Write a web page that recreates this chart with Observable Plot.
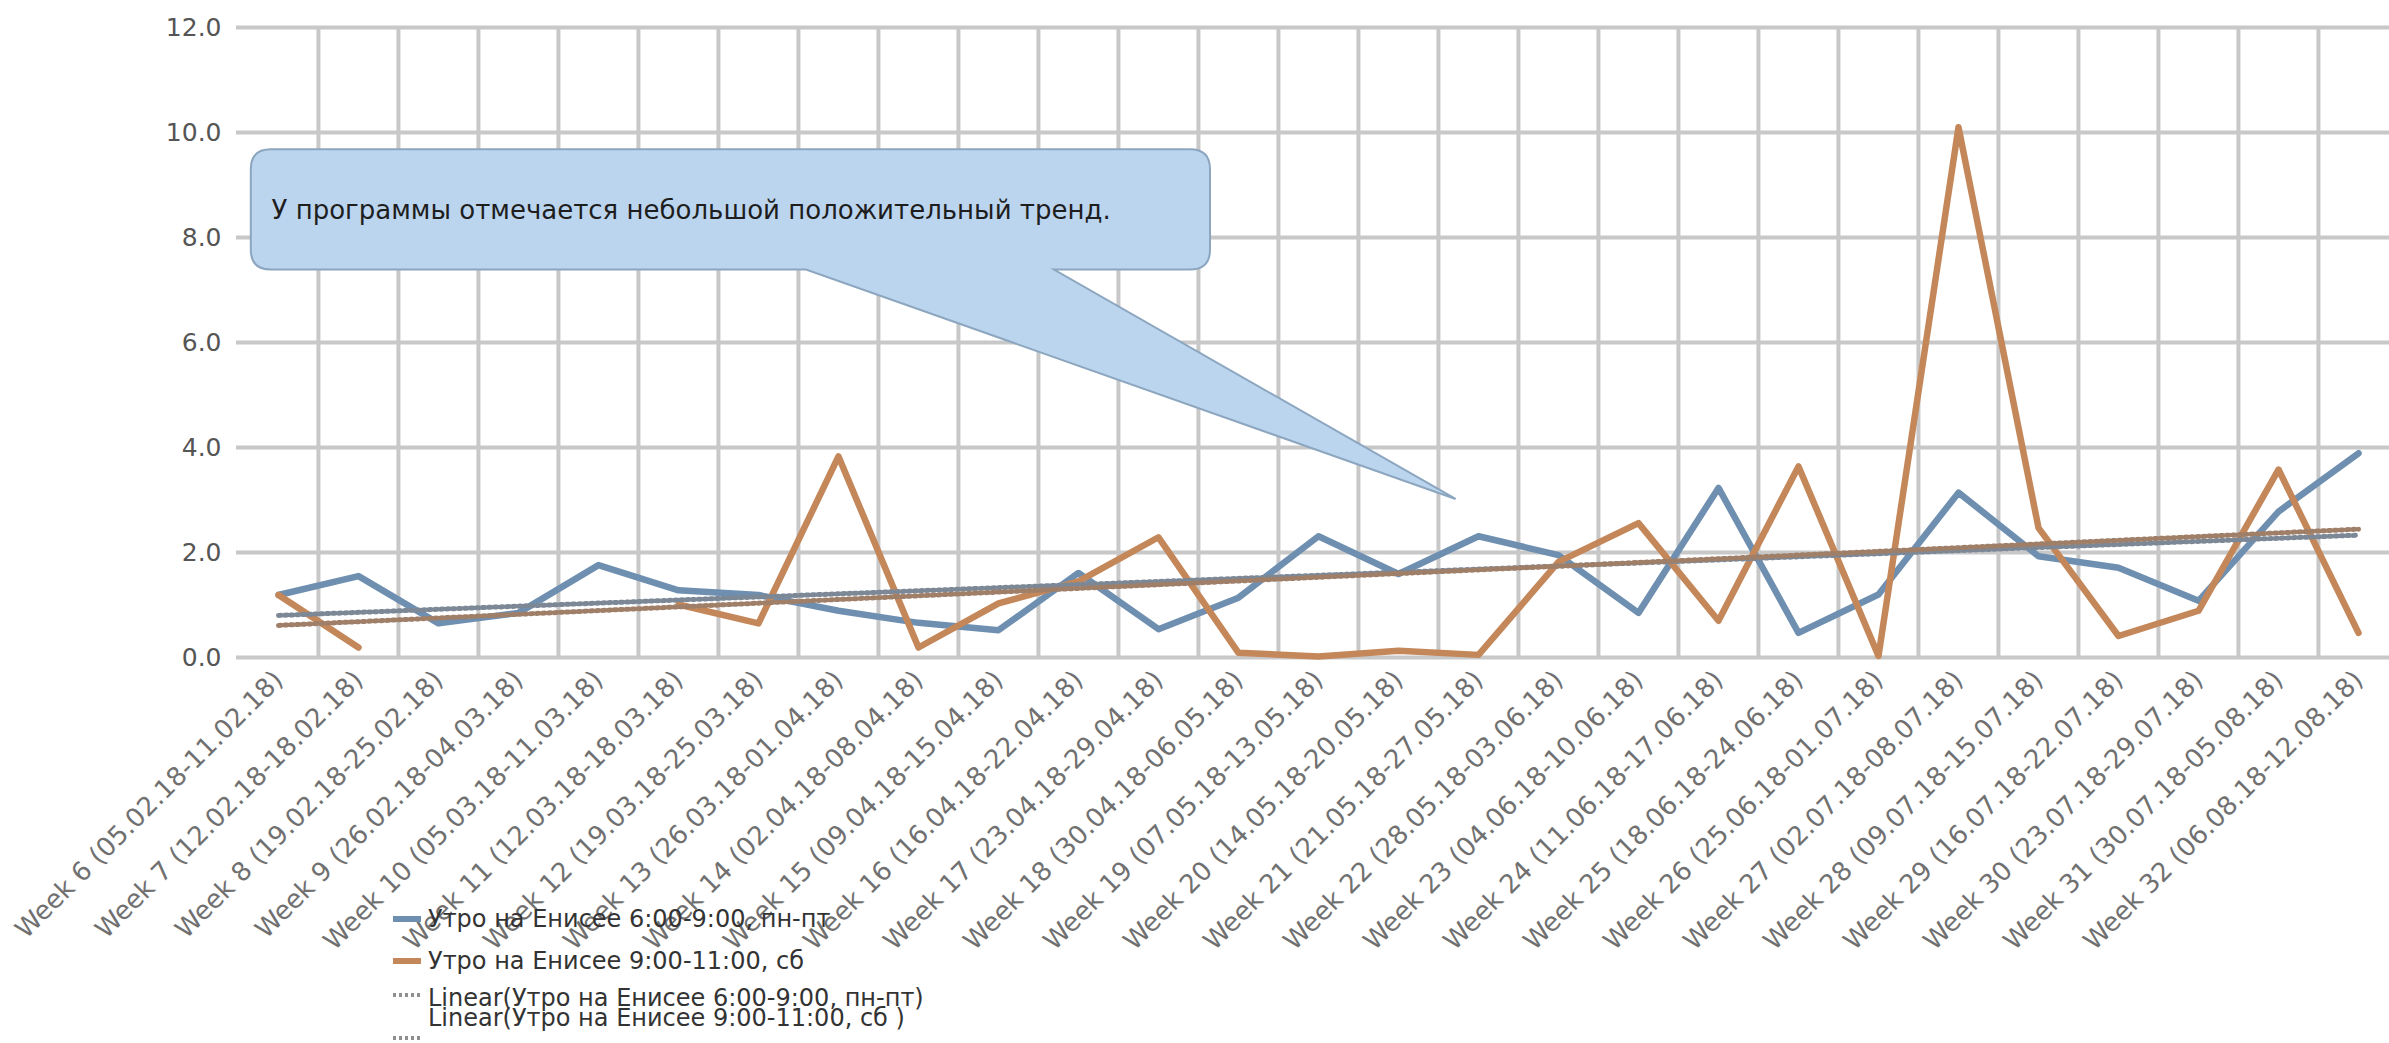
<!DOCTYPE html>
<html><head><meta charset="utf-8">
<script src="https://cdn.jsdelivr.net/npm/d3@7"></script>
<script src="https://cdn.jsdelivr.net/npm/@observablehq/plot@0.6"></script>
<style>
html,body{margin:0;padding:0;background:#fff;overflow:hidden;}
#wrap{position:relative;width:2389px;height:1043px;overflow:hidden;}
.lg{position:absolute;font-family:"DejaVu Sans";font-size:24px;color:#333;white-space:pre;line-height:1;}
.sw{position:absolute;}
</style></head><body><div id="wrap"></div>
<script>
// ---- data ----
const weeks = [
  "Week 6 (05.02.18-11.02.18)","Week 7 (12.02.18-18.02.18)","Week 8 (19.02.18-25.02.18)",
  "Week 9 (26.02.18-04.03.18)","Week 10 (05.03.18-11.03.18)","Week 11 (12.03.18-18.03.18)",
  "Week 12 (19.03.18-25.03.18)","Week 13 (26.03.18-01.04.18)","Week 14 (02.04.18-08.04.18)",
  "Week 15 (09.04.18-15.04.18)","Week 16 (16.04.18-22.04.18)","Week 17 (23.04.18-29.04.18)",
  "Week 18 (30.04.18-06.05.18)","Week 19 (07.05.18-13.05.18)","Week 20 (14.05.18-20.05.18)",
  "Week 21 (21.05.18-27.05.18)","Week 22 (28.05.18-03.06.18)","Week 23 (04.06.18-10.06.18)",
  "Week 24 (11.06.18-17.06.18)","Week 25 (18.06.18-24.06.18)","Week 26 (25.06.18-01.07.18)",
  "Week 27 (02.07.18-08.07.18)","Week 28 (09.07.18-15.07.18)","Week 29 (16.07.18-22.07.18)",
  "Week 30 (23.07.18-29.07.18)","Week 31 (30.07.18-05.08.18)","Week 32 (06.08.18-12.08.18)"
];
const weekdayValues = [1.19,1.55,0.65,0.85,1.76,1.28,1.19,0.89,0.66,0.52,1.61,0.54,1.14,2.31,1.59,2.31,1.95,0.85,3.23,0.47,1.20,3.14,1.93,1.71,1.08,2.78,3.89];
const saturdayValues = [1.19,0.19,null,null,null,1.01,0.65,3.83,0.19,1.03,1.45,2.29,0.09,0.02,0.13,0.05,1.82,2.56,0.70,3.64,0.03,10.10,2.47,0.41,0.89,3.58,0.47];
const seriesNames = ["Утро на Енисее 6:00-9:00, пн-пт","Утро на Енисее 9:00-11:00, сб"];
const trendNames = ["Linear(Утро на Енисее 6:00-9:00, пн-пт)","Linear(Утро на Енисее 9:00-11:00, сб )"];
const yTicks = [0,2,4,6,8,10,12];
const noteText = "У программы отмечается небольшой положительный тренд.";

// ---- styles ----
const colBlue = "#6f8fb0", colOrange = "#c4875a";
const colTrendBlue = "#7d8896", colTrendOrange = "#a07f69";
const gridCol = "#c8c8c8";

const rows = (vals, s) => vals.map((v, i) => ({week: weeks[i], v, s}));
const blueRows = rows(weekdayValues, 0);
const orangeRows = rows(saturdayValues, 1);

// linear trend (Excel style, x = category index)
function trend(vals) {
  const pts = vals.map((v, i) => [i, v]).filter(d => d[1] != null);
  const mx = d3.mean(pts, d => d[0]), my = d3.mean(pts, d => d[1]);
  const b = d3.sum(pts, d => (d[0]-mx)*(d[1]-my)) / d3.sum(pts, d => (d[0]-mx)**2);
  const a = my - b*mx;
  return [0, weeks.length-1].map(i => ({week: weeks[i], v: a + b*i}));
}
const trendBlue = trend(weekdayValues), trendOrange = trend(saturdayValues);

const W = 2389, H = 1043, left = 236, rightEdge = 2399;
const step = (rightEdge - left) / weeks.length;

const chart = Plot.plot({
  width: W, height: H,
  marginLeft: left, marginRight: 0, marginTop: 27, marginBottom: 386,
  style: {fontFamily: "DejaVu Sans", background: "white"},
  x: {type: "point", domain: weeks, range: [left, rightEdge], padding: 0.5},
  y: {domain: [0, 12], ticks: yTicks},
  marks: [
    Plot.ruleY(yTicks, {stroke: gridCol, strokeWidth: 4}),
    Plot.ruleX(weeks.slice(1), {dx: -step/2, stroke: gridCol, strokeWidth: 4}),
    Plot.axisY({ticks: yTicks, tickFormat: d3.format(".1f"), tickSize: 0, tickPadding: 15, fontSize: 25, color: "#555", label: null}),
    Plot.axisX({tickSize: 0, tickRotate: -45, tickPadding: 18, fontSize: 26, color: "#707070", label: null}),
    Plot.line(blueRows, {x: "week", y: "v", stroke: colBlue, strokeWidth: 6.5, strokeLinejoin: "round"}),
    Plot.line(orangeRows, {x: "week", y: "v", stroke: colOrange, strokeWidth: 6.5, strokeLinejoin: "round"}),
    Plot.line(trendBlue, {x: "week", y: "v", stroke: colTrendBlue, strokeWidth: 5, strokeDasharray: "2.5,3.5"}),
    Plot.line(trendOrange, {x: "week", y: "v", stroke: colTrendOrange, strokeWidth: 5, strokeDasharray: "2.5,3.5"})
  ]
});
document.getElementById("wrap").appendChild(chart);

// ---- callout annotation (positioned in data space: category index, value) ----
const callout = {x0: -0.34, x1: 11.65, y0: 7.38, y1: 9.67, tailX0: 6.6, tailX1: 9.7, tipX: 14.72, tipY: 3.01, textX: -0.08};
const xs = chart.scale("x"), ys = chart.scale("y");
const x0px = xs.apply(weeks[0]);
const stepPx = xs.apply(weeks[1]) - x0px;
const X = i => x0px + i*stepPx, Y = v => ys.apply(v);
{
  const L = X(callout.x0), R = X(callout.x1), T = Y(callout.y1), B = Y(callout.y0), r = 20;
  const b1 = X(callout.tailX0), b2 = X(callout.tailX1), tx = X(callout.tipX), ty = Y(callout.tipY);
  const d = `M${L+r},${T}H${R-r}Q${R},${T} ${R},${T+r}V${B-r}Q${R},${B} ${R-r},${B}H${b2}L${tx},${ty}L${b1},${B}H${L+r}Q${L},${B} ${L},${B-r}V${T+r}Q${L},${T} ${L+r},${T}Z`;
  const svg = d3.select(chart);
  svg.append("path").attr("d", d).attr("fill", "#bcd5ef").attr("stroke", "#8da6bf").attr("stroke-width", 2);
  svg.append("text").attr("x", X(callout.textX)).attr("y", (T+B)/2 + 2).attr("dominant-baseline", "middle")
    .attr("text-anchor", "start")
    .attr("font-family", "DejaVu Sans").attr("font-size", 26).attr("fill", "#1e1e1e").text(noteText);
}

// ---- legend ----
const wrap = document.getElementById("wrap");
const legendItems = [
  {name: seriesNames[0], color: colBlue, dash: null, ty: 919, sy: 919},
  {name: seriesNames[1], color: colOrange, dash: null, ty: 961, sy: 961},
  {name: trendNames[0], color: "#8f8f8f", dash: "3,3", ty: 998, sy: 995},
  {name: trendNames[1], color: "#8f8f8f", dash: "3,3", ty: 1018, sy: 1038}
];
legendItems.forEach(it => {
  const sw = document.createElementNS("http://www.w3.org/2000/svg", "svg");
  sw.setAttribute("class", "sw"); sw.setAttribute("width", 30); sw.setAttribute("height", 10);
  sw.style.left = "393px"; sw.style.top = (it.sy - 5) + "px";
  const ln = document.createElementNS("http://www.w3.org/2000/svg", "line");
  ln.setAttribute("x1", 0); ln.setAttribute("x2", 28); ln.setAttribute("y1", 5); ln.setAttribute("y2", 5);
  ln.setAttribute("stroke", it.color); ln.setAttribute("stroke-width", it.dash ? 4 : 6);
  if (it.dash) ln.setAttribute("stroke-dasharray", it.dash);
  sw.appendChild(ln); wrap.appendChild(sw);
  const t = document.createElement("div");
  t.className = "lg"; t.textContent = it.name;
  t.style.left = "428px"; t.style.top = (it.ty - 12) + "px";
  wrap.appendChild(t);
});
</script></body></html>
